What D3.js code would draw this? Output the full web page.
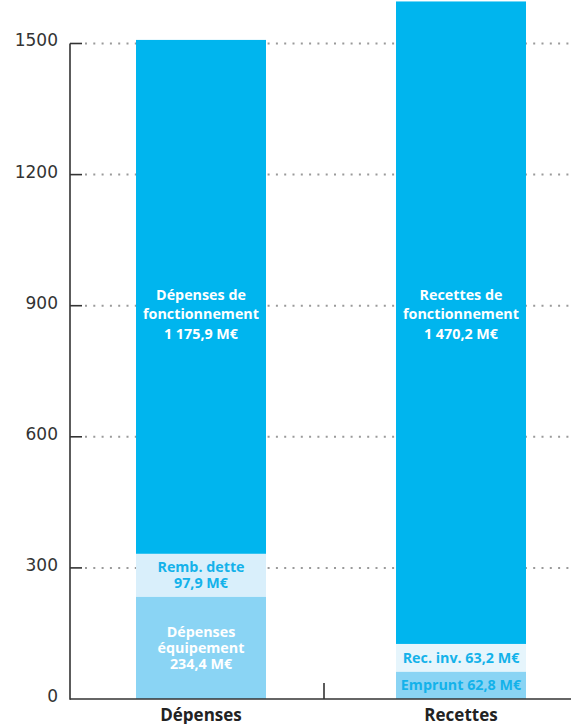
<!DOCTYPE html>
<html><head><meta charset="utf-8">
<script src="https://cdn.jsdelivr.net/npm/d3@7"></script>
<style>html,body{margin:0;padding:0;background:#fff;overflow:hidden}</style>
</head><body>
<svg id="c" width="571" height="724"></svg>
<script>
// ---- data ----
const categories = ["Dépenses", "Recettes"];
const segmentNames = ["base", "middle", "top"];
const depensesValues = [234.4, 97.9, 1175.9];   // équipement, remb. dette, fonctionnement
const recettesValues = [62.8, 63.2, 1470.2];    // emprunt, rec. inv., fonctionnement
const depensesLabels = [["Dépenses", "équipement", "234,4 M€"], ["Remb. dette", "97,9 M€"], ["Dépenses de", "fonctionnement", "1 175,9 M€"]];
const recettesLabels = [["Emprunt 62,8 M€"], ["Rec. inv. 63,2 M€"], ["Recettes de", "fonctionnement", "1 470,2 M€"]];
const tickValues = [0, 300, 600, 900, 1200, 1500];
const tickLabels = ["0", "300", "600", "900", "1200", "1500"];

// ---- styles ----
const fills = {
  "Dépenses": ["#8AD4F4", "#D9EFFB", "#00B5EE"],
  "Recettes": ["#8AD4F4", "#E6F5FC", "#00B5EE"]
};
const textFills = {
  "Dépenses": ["#ffffff", "#14B2EA", "#ffffff"],
  "Recettes": ["#14B2EA", "#14B2EA", "#ffffff"]
};

const svg = d3.select("#c");
const y = d3.scaleLinear().domain([0, 1500]).range([699, 43.5]);
const x = d3.scaleBand().domain(categories).range([71, 591]).paddingInner(0.5).paddingOuter(0.25);

// gridlines (dotted)
svg.append("g").selectAll("line").data(tickValues.filter(v => v > 0)).join("line")
  .attr("x1", 85).attr("x2", 571)
  .attr("y1", d => y(d)).attr("y2", d => y(d))
  .attr("stroke", "#9a9a9a").attr("stroke-width", 2)
  .attr("stroke-dasharray", "2 6.3");

// stacked bars
const rows = categories.map((c, i) => {
  const vals = i === 0 ? depensesValues : recettesValues;
  const labs = i === 0 ? depensesLabels : recettesLabels;
  let acc = 0;
  return vals.map((v, j) => {
    const s = {cat: c, j, y0: acc, y1: acc + v, label: labs[j]};
    acc += v; return s;
  });
}).flat();

svg.append("g").selectAll("rect").data(rows).join("rect")
  .attr("x", d => x(d.cat)).attr("width", x.bandwidth())
  .attr("y", d => y(d.y1)).attr("height", d => y(d.y0) - y(d.y1))
  .attr("fill", d => fills[d.cat][d.j]);

// labels
const lg = svg.append("g").attr("font-family", "'Open Sans', sans-serif")
  .attr("font-weight", 700).attr("font-size", 14.3).attr("text-anchor", "middle");
rows.forEach(d => {
  const big = d.j === 2;
  const lh = big ? 19.5 : 16;
  const cy = big ? y(880) : (y(d.y0) + y(d.y1)) / 2;
  const n = d.label.length;
  const t = lg.append("text").attr("fill", textFills[d.cat][d.j]);
  d.label.forEach((s, k) => {
    t.append("tspan").attr("x", x(d.cat) + x.bandwidth() / 2)
      .attr("y", cy + (k - (n - 1) / 2) * lh)
      .attr("dy", "0.35em").text(s);
  });
});

// y axis
const ax = svg.append("g").attr("stroke", "#333").attr("stroke-width", 1.6);
ax.append("line").attr("x1", 70).attr("x2", 70).attr("y1", y(1500)).attr("y2", y(0) + 0.8);
ax.selectAll(".tk").data(tickValues.filter(v => v > 0)).join("line")
  .attr("x1", 70).attr("x2", 82).attr("y1", d => y(d)).attr("y2", d => y(d));
// x axis
ax.append("line").attr("x1", 70).attr("x2", 571).attr("y1", y(0)).attr("y2", y(0));
const mid = (x(categories[0]) + x.bandwidth() + x(categories[1])) / 2 - 7;
ax.append("line").attr("x1", mid).attr("x2", mid).attr("y1", y(0) - 16).attr("y2", y(0));

svg.append("g").selectAll("text").data(tickValues).join("text")
  .attr("x", 58).attr("y", d => y(d) - 3).attr("dy", "0.35em")
  .attr("text-anchor", "end").attr("font-family", "'DejaVu Sans', sans-serif")
  .attr("font-size", 17).attr("fill", "#333")
  .text((d, i) => tickLabels[i]);

svg.append("g").selectAll("text").data(categories).join("text")
  .attr("x", d => x(d) + x.bandwidth() / 2).attr("y", 721)
  .attr("text-anchor", "middle").attr("font-family", "'Open Sans', sans-serif")
  .attr("font-weight", 700).attr("font-size", 17).attr("fill", "#222")
  .text(d => d);
</script>
</body></html>
